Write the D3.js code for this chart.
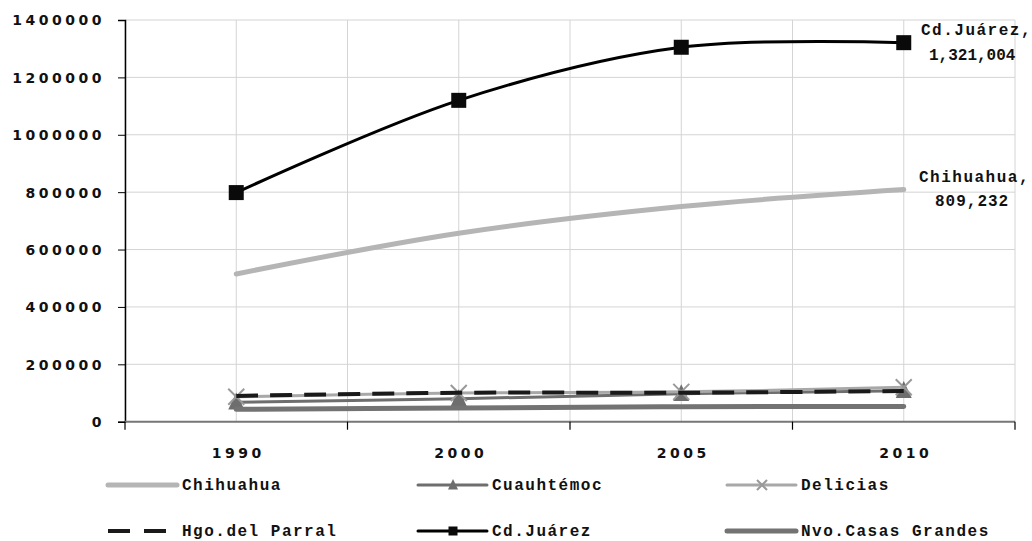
<!DOCTYPE html>
<html>
<head>
<meta charset="utf-8">
<title>Poblacion municipios Chihuahua</title>
<script src="https://cdnjs.cloudflare.com/ajax/libs/d3/7.8.5/d3.min.js"></script>
<style>
  body { margin: 0; background: #fff; }
  .tick-lbl { font-family: "DejaVu Sans", sans-serif; font-weight: bold; font-size: 14px; letter-spacing: 3.5px; fill: #111; }
  .mono { font-family: "Liberation Mono", "Courier New", monospace; font-weight: bold; font-size: 16px; letter-spacing: 1.5px; fill: #111; }
</style>
</head>
<body>
<div id="chart"></div>
<script>
// data
var years = ["1990", "2000", "2005", "2010"];
var chihuahua  = [515000, 657000, 750000, 809232];
var cuauhtemoc = [68000, 80000, 97000, 108000];
var delicias   = [87000, 100000, 104000, 120000];
var parral     = [90000, 101000, 101000, 107000];
var juarez     = [798499, 1120000, 1305000, 1321004];
var casasGr    = [43000, 48000, 52000, 53000];
var yTicks = [0, 200000, 400000, 600000, 800000, 1000000, 1200000, 1400000];

var W = 1032, H = 541;
var svg = d3.select("#chart").append("svg").attr("width", W).attr("height", H);

var x = d3.scaleBand().domain(years).range([125, 1015]).padding(0);
var y = d3.scaleLinear().domain([0, 1400000]).range([421.7, 20]);
var cx = function(d, i) { return x(years[i]) + x.bandwidth() / 2; };

// grid
var gridX = [];
years.forEach(function(yr) { gridX.push(x(yr)); gridX.push(x(yr) + x.bandwidth() / 2); });
gridX.push(1015);
svg.selectAll(".gx").data(gridX).enter().append("line")
  .attr("x1", function(d) { return d; }).attr("x2", function(d) { return d; })
  .attr("y1", 20).attr("y2", y(0))
  .style("stroke", "#d4d4d4").style("stroke-width", 1);
svg.selectAll(".gy").data(yTicks).enter().append("line")
  .attr("x1", 125).attr("x2", 1015)
  .attr("y1", function(d) { return y(d); }).attr("y2", function(d) { return y(d); })
  .style("stroke", "#d4d4d4").style("stroke-width", 1);

// y axis
var yAxis = d3.axisLeft(y).tickValues(yTicks).tickSize(7).tickFormat(function(d) { return d; });
var gy = svg.append("g").attr("transform", "translate(125,0)").call(yAxis);
gy.select(".domain").attr("stroke", "#000").attr("stroke-width", 1.5);
gy.selectAll(".tick line").attr("stroke", "#000");
gy.selectAll(".tick text").attr("class", "tick-lbl").attr("x", -20).attr("dy", "0.35em");

// x axis
svg.append("line").attr("x1", 125).attr("x2", 1015).attr("y1", y(0)).attr("y2", y(0))
  .style("stroke", "#777").style("stroke-width", 2);
var xTicks = years.map(function(yr) { return x(yr); }).concat([1015]);
svg.selectAll(".xt").data(xTicks).enter().append("line")
  .attr("x1", function(d) { return d; }).attr("x2", function(d) { return d; })
  .attr("y1", y(0)).attr("y2", y(0) + 8)
  .style("stroke", "#000").style("stroke-width", 1.2);
svg.selectAll(".xl").data(years).enter().append("text")
  .attr("class", "tick-lbl").attr("text-anchor", "middle")
  .attr("x", function(d) { return x(d) + x.bandwidth() / 2 + 2; }).attr("y", 458)
  .text(function(d) { return d; });

// series
var line = d3.line().x(cx).y(function(d) { return y(d); }).curve(d3.curveCatmullRom.alpha(0.5));

var series = [
  { name: "Chihuahua", vals: chihuahua, color: "#b5b5b5", w: 5, dash: null, marker: null },
  { name: "Cuauhtémoc", vals: cuauhtemoc, color: "#6e6e6e", w: 3, dash: null, marker: "tri" },
  { name: "Delicias", vals: delicias, color: "#a8a8a8", w: 3, dash: null, marker: "x" },
  { name: "Hgo.del Parral", vals: parral, color: "#1a1a1a", w: 4, dash: "22,12", marker: null },
  { name: "Cd.Juárez", vals: juarez, color: "#000", w: 3, dash: null, marker: "sq" },
  { name: "Nvo.Casas Grandes", vals: casasGr, color: "#737373", w: 5, dash: null, marker: null }
];

function drawMarker(g, type, px, py, size) {
  if (type === "tri") {
    var s = size;
    g.append("path").attr("d", "M" + px + "," + (py - s * 0.6) + "L" + (px + s / 2) + "," + (py + s * 0.45) + "L" + (px - s / 2) + "," + (py + s * 0.45) + "Z")
      .style("fill", "#6e6e6e");
  } else if (type === "x") {
    var h = size / 2;
    g.append("path").attr("d", "M" + (px - h) + "," + (py - h) + "L" + (px + h) + "," + (py + h) + "M" + (px - h) + "," + (py + h) + "L" + (px + h) + "," + (py - h))
      .style("stroke", "#999").style("stroke-width", 2).style("fill", "none");
  } else if (type === "sq") {
    g.append("rect").attr("x", px - size / 2).attr("y", py - size / 2).attr("width", size).attr("height", size)
      .style("fill", "#0a0a0a");
  }
}

series.forEach(function(s) {
  svg.append("path").datum(s.vals).attr("d", line)
    .style("fill", "none").style("stroke", s.color).style("stroke-width", s.w)
    .style("stroke-linecap", s.dash ? "butt" : "round")
    .style("stroke-dasharray", s.dash);
  if (s.marker) {
    var g = svg.append("g");
    s.vals.forEach(function(v, i) {
      drawMarker(g, s.marker, cx(v, i), y(v), s.marker === "sq" ? 15 : 16);
    });
  }
});

// data labels
svg.append("text").attr("class", "mono").attr("x", 921).attr("y", 35).text("Cd.Juárez,");
svg.append("text").attr("class", "mono").attr("x", 929).attr("y", 60).style("letter-spacing", "0px").text("1,321,004");
svg.append("text").attr("class", "mono").attr("x", 919).attr("y", 182).text("Chihuahua,");
svg.append("text").attr("class", "mono").attr("x", 935).attr("y", 206).style("letter-spacing", "1px").text("809,232");

// legend
var legX = [108, 418, 727];
var legY = [485, 531];
series.forEach(function(s, i) {
  var lx = legX[i % 3], ly = legY[Math.floor(i / 3)];
  var g = svg.append("g");
  g.append("line").attr("x1", lx).attr("x2", lx + 69).attr("y1", ly).attr("y2", ly)
    .style("stroke", s.color).style("stroke-width", s.w)
    .style("stroke-linecap", s.dash ? "butt" : "round")
    .style("stroke-dasharray", s.dash ? "22,14" : null);
  if (s.marker) drawMarker(g, s.marker, lx + 35, ly, s.marker === "sq" ? 9 : 10);
  g.append("text").attr("class", "mono").attr("x", lx + 74).attr("y", ly + 5).text(s.name);
});
</script>
</body>
</html>
